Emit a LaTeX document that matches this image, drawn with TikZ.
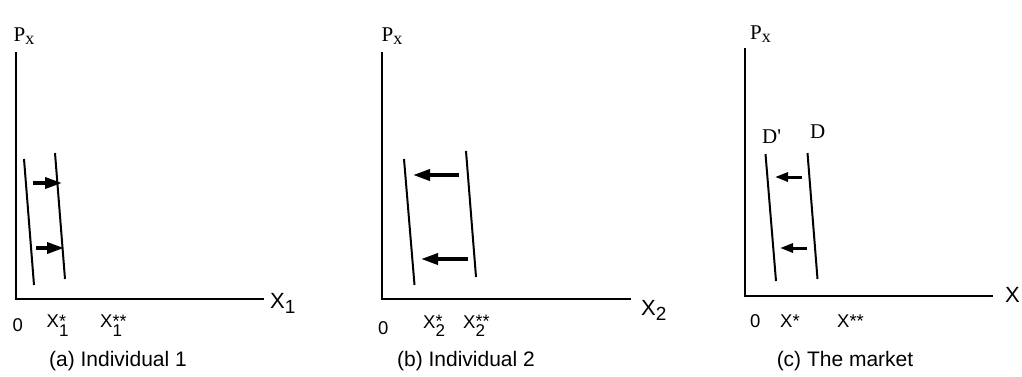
\documentclass[tikz,border=0pt]{standalone}
\usepackage{fontspec}
\setmainfont{Liberation Sans}
\newfontfamily\serifface{Liberation Serif}
\usetikzlibrary{arrows.meta}
\newcommand\XsubSup[2]{X\makebox[0pt][l]{\raisebox{0.5pt}{\fontsize{18}{18}\selectfont #2}}\raisebox{-8.3pt}{\fontsize{17}{17}\selectfont #1}}
\newcommand\Pxlabel{P\raisebox{-2.6pt}{\fontsize{18}{18}\selectfont x}}
\tikzset{
  axis/.style={line width=2.6pt, line cap=rect},
  curve/.style={line width=2pt},
  shift arrow/.style={line width=3.6pt, -{Triangle[length=17pt,width=11pt]}},
  small shift arrow/.style={line width=3pt, -{Triangle[length=13pt,width=9pt]}},
  lbl/.style={inner sep=0pt, anchor=base west, font=\fontsize{18.5}{18.5}\selectfont},
  axlbl/.style={inner sep=0pt, anchor=base west, font=\fontsize{22}{22}\selectfont},
  serlbl/.style={inner sep=0pt, anchor=base west, font=\serifface\fontsize{21}{21}\selectfont},
  caption/.style={inner sep=0pt, anchor=base, font=\fontsize{21}{21}\selectfont},
}
\begin{document}
\begin{tikzpicture}[x=1pt,y=-1pt]
\useasboundingbox (0,0) rectangle (1022,376);
% ---------- panel (a)
\coordinate (aT) at (16,53);
\coordinate (aO) at (16,299);
\coordinate (aR) at (263,299);
\draw[axis] (aT) -- (aO) -- (aR);
\coordinate (a1t) at (24,159); \coordinate (a1b) at (34,285);
\coordinate (a2t) at (55,153); \coordinate (a2b) at (65,279);
\draw[curve] (a1t) -- (a1b);
\draw[curve] (a2t) -- (a2b);
\coordinate (aua) at (33,183); \coordinate (aub) at (62,183);
\coordinate (ala) at (36,248); \coordinate (alb) at (64,248);
\draw[shift arrow] (aua) -- (aub);
\draw[shift arrow] (ala) -- (alb);
\node[serlbl] (aP) at (13.5,41.5) {\Pxlabel};
\node[axlbl] (aX) at (270,308) {X\raisebox{-5pt}{\fontsize{19}{19}\selectfont 1}};
\node[lbl] (a0) at (12.5,331) {0};
\node[lbl] (aXs) at (46.5,327.7) {\XsubSup{1}{*}};
\node[lbl] (aXss) at (100,327.7) {\XsubSup{1}{**}};
\node[caption] (acap) at (118,366) {(a) Individual 1};
% ---------- panel (b)
\coordinate (bT) at (382,53);
\coordinate (bO) at (382,299);
\coordinate (bR) at (630,299);
\draw[axis] (bT) -- (bO) -- (bR);
\coordinate (b1t) at (404,159); \coordinate (b1b) at (414.5,285);
\coordinate (b2t) at (466,151); \coordinate (b2b) at (476,277);
\draw[curve] (b1t) -- (b1b);
\draw[curve] (b2t) -- (b2b);
\coordinate (bua) at (459,175); \coordinate (bub) at (413,175);
\coordinate (bla) at (468,259); \coordinate (blb) at (421,259);
\draw[shift arrow] (bua) -- (bub);
\draw[shift arrow] (bla) -- (blb);
\node[serlbl] (bP) at (381.5,41.5) {\Pxlabel};
\node[axlbl] (bX) at (641,315) {X\raisebox{-5pt}{\fontsize{19}{19}\selectfont 2}};
\node[lbl] (b0) at (378,334) {0};
\node[lbl] (bXs) at (423,328) {\XsubSup{2}{*}};
\node[lbl] (bXss) at (463,328) {\XsubSup{2}{**}};
\node[caption] (bcap) at (466,366) {(b) Individual 2};
% ---------- panel (c)
\coordinate (cT) at (745,49);
\coordinate (cO) at (745,296);
\coordinate (cR) at (992,296);
\draw[axis] (cT) -- (cO) -- (cR);
\coordinate (c1t) at (765.5,154); \coordinate (c1b) at (776,281);
\coordinate (c2t) at (807.5,153); \coordinate (c2b) at (817.5,279);
\draw[curve] (c1t) -- (c1b);
\draw[curve] (c2t) -- (c2b);
\coordinate (cua) at (802,177); \coordinate (cub) at (775,177);
\coordinate (cla) at (807,248); \coordinate (clb) at (780,248);
\draw[small shift arrow] (cua) -- (cub);
\draw[small shift arrow] (cla) -- (clb);
\node[serlbl] (cP) at (750,39.5) {\Pxlabel};
\node[serlbl] (cDp) at (762,143) {D'};
\node[serlbl] (cD) at (810,138) {D};
\node[axlbl] (cX) at (1005,302) {X};
\node[lbl] (c0) at (750,327) {0};
\node[lbl] (cXs) at (780,327) {X*};
\node[lbl] (cXss) at (837,327) {X**};
\node[caption] (ccap) at (845,366) {(c) The market};
\end{tikzpicture}
\end{document}
